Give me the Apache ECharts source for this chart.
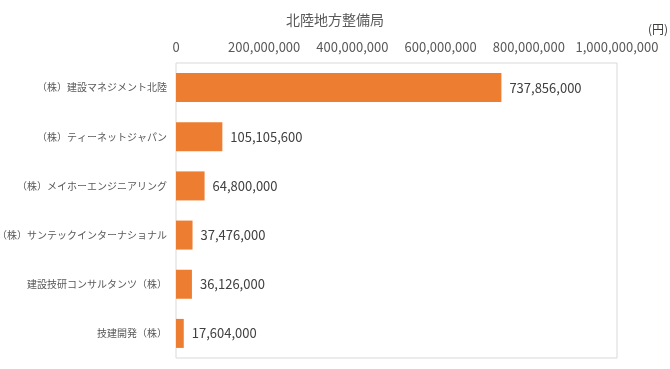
<!DOCTYPE html>
<html><head><meta charset="utf-8">
<script src="https://cdn.jsdelivr.net/npm/echarts@6/dist/echarts.min.js"></script>
<style>html,body{margin:0;padding:0;background:#fff}#c{width:670px;height:369px}</style>
</head><body><div id="c"></div>
<script>
const categories = ['（株）建設マネジメント北陸','（株）ティーネットジャパン','（株）メイホーエンジニアリング','（株）サンテックインターナショナル','建設技研コンサルタンツ（株）','技建開発（株）'];
const values = [737856000,105105600,64800000,37476000,36126000,17604000];
const titleText = '北陸地方整備局';
const unitText = '(円)';
const font = '"Noto Sans CJK JP", sans-serif';
const chart = echarts.init(document.getElementById('c'));
chart.setOption({
  animation:false,
  textStyle:{fontFamily:font},
  title:[{text:titleText,left:'center',top:8,textStyle:{fontFamily:font,fontSize:14,fontWeight:'normal',color:'#595959'}},
         {text:unitText,left:643,top:18,textStyle:{fontFamily:font,fontSize:12,fontWeight:'normal',color:'#404040'}}],
  grid:{left:176,top:63,width:441,height:295,show:true,borderColor:'#d9d9d9',borderWidth:1,containLabel:false,outerBoundsMode:'none'},
  xAxis:{type:'value',position:'top',min:0,max:1000000000,interval:200000000,
    splitLine:{show:false},axisLine:{show:false},axisTick:{show:false},
    axisLabel:{color:'#595959',fontSize:13,margin:9,fontFamily:font,
      formatter:v=>v.toLocaleString('en-US')}},
  yAxis:{type:'category',data:categories,inverse:true,
    axisLine:{show:false},axisTick:{show:false},
    axisLabel:{color:'#595959',fontSize:10,margin:9,fontFamily:font}},
  series:[{type:'bar',data:values,barCategoryGap:'41%',
    itemStyle:{color:'#ED7D31'},
    label:{show:true,position:'right',distance:8,color:'#404040',fontSize:13,fontFamily:font,
      formatter:p=>p.value.toLocaleString('en-US')}}]
});
</script></body></html>
